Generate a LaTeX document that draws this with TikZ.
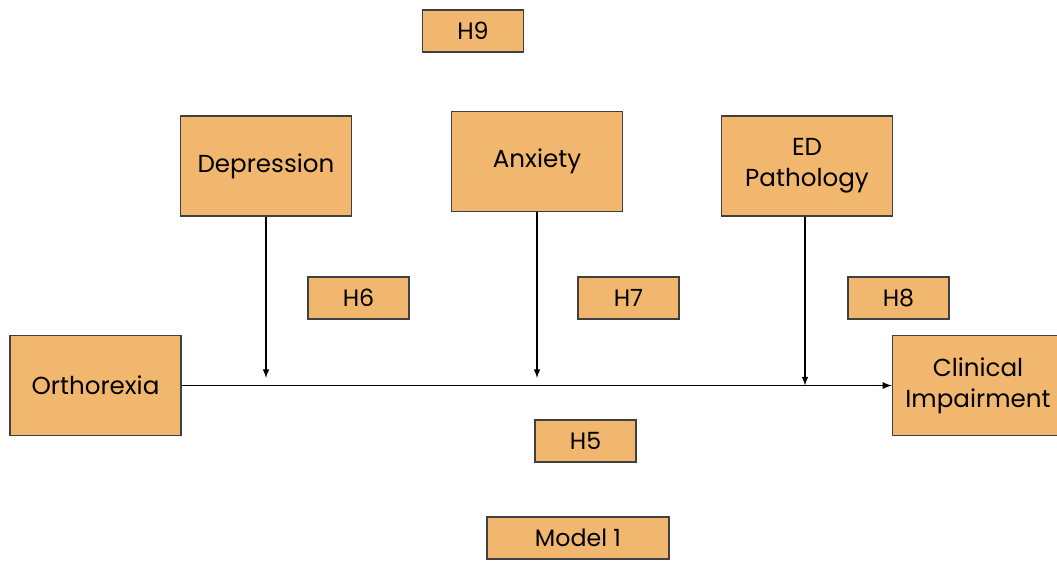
\documentclass[tikz,border=0pt]{standalone}
\usepackage{fontspec}
\setmainfont{Poppins}
\usetikzlibrary{positioning}
\definecolor{boxfill}{RGB}{242,183,110}
\definecolor{boxline}{RGB}{64,64,64}
\begin{document}
\begin{tikzpicture}[>=latex, x=0.02cm, y=-0.02cm,
  var/.style={draw=boxline, fill=boxfill, line width=0.8pt, minimum width=3.42cm, minimum height=2cm, align=center, font=\fontsize{14}{17.5}\selectfont, inner sep=2pt},
  hyp/.style={draw=boxline, fill=boxfill, line width=0.8pt, minimum width=2.02cm, minimum height=0.84cm, font=\fontsize{13.5}{16}\selectfont, inner sep=2pt}]
\useasboundingbox (0,0) rectangle (1057,561);
\node[var](ortho) at (95.5,385.5){Orthorexia};
\node[var](clin) at (978,385.5){Clinical\\Impairment};
\node[var](dep) at (266,166){Depression};
\node[var](anx) at (537,161.5){Anxiety};
\node[var](ed) at (807,166){ED\\Pathology};
\node[hyp](h9) at (473,31){H9};
\node[hyp](h6) at (358.5,298){H6};
\node[hyp](h7) at (628.5,298){H7};
\node[hyp](h8) at (898.5,298){H8};
\node[hyp](h5) at (585.5,441){H5};
\node[hyp, minimum width=3.64cm](model) at (578,538){Model 1};
\draw[->, line width=0.8pt](ortho.east)--(clin.west);
\coordinate (d1) at (dep.south |- ortho.east);
\coordinate (d2) at (anx.south |- ortho.east);
\coordinate (d3) at (805,385.5);
\draw[->, line width=0.7pt, shorten >=1.5mm](dep.south)--(d1);
\draw[->, line width=0.7pt, shorten >=1.5mm](anx.south)--(d2);
\draw[->, line width=0.7pt](ed.south -| d3)--(d3);
\end{tikzpicture}
\end{document}
